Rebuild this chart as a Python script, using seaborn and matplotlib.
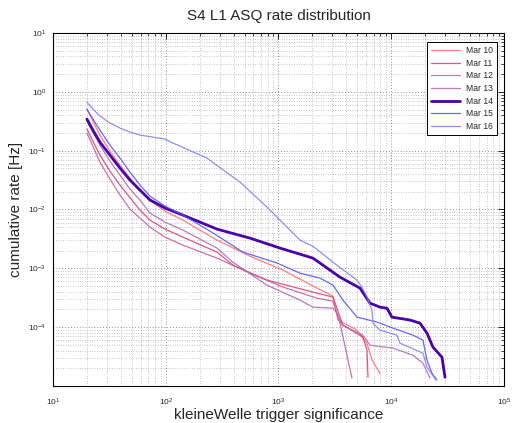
import numpy as np
import pandas as pd
import matplotlib
matplotlib.use("Agg")
import matplotlib.pyplot as plt
import seaborn as sns

# significance / cumulative rate for each day
mar10_x = [20, 22.6, 26.1, 32.0, 39.3, 48.2, 59.1, 72.5, 98.5, 142, 285, 559, 1096, 2195, 3044,
           3370, 4970, 6095, 6751, 7946]
mar10_y = [0.510, 0.319, 0.184, 0.0985, 0.0569, 0.0342, 0.0214, 0.0145, 0.00939, 0.0066, 0.00302,
           0.00161, 9.32e-4, 4.61e-4, 3.37e-4, 1.32e-4, 8.89e-5, 5.34e-5, 2.75e-5, 1.65e-5]

mar11_x = [20, 22.6, 26.1, 32.0, 39.3, 59.1, 72.5, 98.5, 142, 285, 395, 791, 2195, 3044, 3733,
           5616, 6095, 6221]
mar11_y = [0.233, 0.1457, 0.0842, 0.045, 0.026, 0.00977, 0.0066, 0.00464, 0.00339, 0.00189,
           0.00113, 6.30e-4, 3.79e-4, 3.24e-4, 1.08e-4, 6.76e-5, 4.06e-5, 1.41e-5]

mar12_x = [20, 22.6, 26.1, 32.0, 39.3, 48.2, 59.1, 72.5, 98.5, 142, 285, 559, 1096, 2195, 3044,
           3512, 4487]
mar12_y = [0.200, 0.1197, 0.064, 0.0329, 0.0176, 0.01016, 0.00714, 0.00502, 0.00339, 0.00248,
           0.00149, 8.29e-4, 4.79e-4, 3.11e-4, 2.77e-4, 1.17e-4, 1.36e-5]

mar13_x = [20, 22.6, 26.1, 32.0, 39.3, 48.2, 59.1, 72.5, 98.5, 142, 285, 395, 791, 1551, 2023,
           3044, 3302, 3658, 5616, 6479, 10360, 15590, 19120, 22060]
mar13_y = [0.319, 0.207, 0.1245, 0.0665, 0.0385, 0.0222, 0.0145, 0.00869, 0.0061, 0.00447,
           0.00221, 0.00127, 5.18e-4, 2.88e-4, 2.19e-4, 2.10e-4, 1.73e-4, 1.08e-4, 7.31e-5,
           4.94e-5, 4.40e-5, 3.34e-5, 2.44e-5, 1.36e-5]

mar14_x = [20, 22.6, 26.1, 32.0, 39.3, 48.2, 59.1, 72.5, 98.5, 142, 285, 559, 1031, 2023, 3512,
           5283, 6479, 7946, 9170, 10150, 14670, 17990, 20760, 23460, 28190, 29980]
mar14_y = [0.345, 0.224, 0.140, 0.0842, 0.0506, 0.0316, 0.0214, 0.0145, 0.0106, 0.00803, 0.00464,
           0.00326, 0.00221, 0.00149, 7.08e-4, 4.61e-4, 2.56e-4, 2.19e-4, 2.10e-4, 1.48e-4,
           1.32e-4, 1.17e-4, 7.91e-5, 4.57e-5, 3.09e-5, 1.41e-5]

mar15_x = [20, 22.6, 26.1, 32.0, 39.3, 48.2, 59.1, 72.5, 98.5, 142, 247, 484, 970, 1551, 2334,
           3044, 3733, 4970, 7474, 10360, 15590, 19120, 20760, 22980, 25460]
mar15_y = [0.510, 0.345, 0.224, 0.1245, 0.0748, 0.0433, 0.026, 0.0169, 0.01143, 0.00803, 0.00429,
           0.00189, 0.00123, 8.29e-4, 6.81e-4, 5.18e-4, 2.88e-4, 1.48e-4, 1.22e-4, 9.62e-5,
           7.31e-5, 6.01e-5, 2.75e-5, 1.65e-5, 1.26e-5]

mar16_x = [20, 22.6, 26.1, 32.0, 39.3, 48.2, 59.1, 98.5, 116, 232, 456, 791, 1096, 1551, 2023,
           3044, 4970, 5503, 6095, 6751, 6888, 7946, 11240, 11950, 19120, 20760, 24950]
mar16_y = [0.671, 0.510, 0.388, 0.295, 0.242, 0.207, 0.184, 0.1575, 0.1346, 0.0748, 0.0292,
           0.011, 0.00587, 0.00302, 0.00238, 0.00127, 6.30e-4, 4.79e-4, 3.24e-4, 1.95e-4,
           1.17e-4, 8.89e-5, 7.31e-5, 5.34e-5, 3.61e-5, 2.09e-5, 1.26e-5]

days = ["Mar 10", "Mar 11", "Mar 12", "Mar 13", "Mar 14", "Mar 15", "Mar 16"]
xs = [mar10_x, mar11_x, mar12_x, mar13_x, mar14_x, mar15_x, mar16_x]
ys = [mar10_y, mar11_y, mar12_y, mar13_y, mar14_y, mar15_y, mar16_y]

colores = {"Mar 10": "#ff6a6a", "Mar 11": "#d83a68", "Mar 12": "#c45a98", "Mar 13": "#a865b8",
           "Mar 14": "#4a00a8", "Mar 15": "#5050f0", "Mar 16": "#7c7cf2"}
grosor = {d: 0.9 for d in days}
grosor["Mar 14"] = 2.0

filas = []
for d, xx, yy in zip(days, xs, ys):
    for i, (a, b) in enumerate(zip(xx, yy)):
        filas.append({"day": d, "orden": i, "sig": a, "rate": b})
df = pd.DataFrame(filas)

sns.set_style("white")
plt.rcParams["font.family"] = ["Liberation Sans", "DejaVu Sans"]
plt.rcParams["mathtext.default"] = "regular"

fig = plt.figure(figsize=(5.14, 4.23), dpi=100)
ax = fig.add_axes([0.103, 0.0875, 0.8775, 0.8345])

sns.lineplot(data=df, x="sig", y="rate", hue="day", size="day", palette=colores, sizes=grosor,
             hue_order=days, size_order=days, sort=False, estimator=None, units="day",
             ax=ax, legend=False)
for ln in ax.lines:
    if ln.get_linewidth() < 1.5:
        ln.set_alpha(0.85)

ax.set_xscale("log")
ax.set_yscale("log")
ax.set_xlim(10, 1e5)
ax.set_ylim(1e-5, 10)

punteado = (0, (1, 2.5))
ax.grid(True, which="major", linestyle=punteado, color="#707070", linewidth=0.6)
ax.grid(True, which="minor", linestyle=punteado, color="#909090", linewidth=0.5)
ax.set_xticks([10, 100, 1000, 1e4, 1e5])
ax.set_yticks([1e-4, 1e-3, 1e-2, 1e-1, 1, 10])
ax.yaxis.set_minor_locator(matplotlib.ticker.LogLocator(base=10, subs=np.arange(2, 10), numticks=20))
ax.xaxis.set_minor_locator(matplotlib.ticker.LogLocator(base=10, subs=np.arange(2, 10), numticks=20))
ax.yaxis.set_minor_formatter(matplotlib.ticker.NullFormatter())
ax.xaxis.set_minor_formatter(matplotlib.ticker.NullFormatter())
ax.tick_params(which="both", direction="in", top=True, right=True, labelsize=6, color="black")
ax.tick_params(which="major", length=4, width=0.6)
ax.tick_params(which="minor", length=2, width=0.5)
ax.tick_params(axis="x", which="major", pad=8)
ax.tick_params(axis="y", which="major", pad=5)
for s in ax.spines.values():
    s.set_color("black")
    s.set_linewidth(0.8)

ax.set_title("S4 L1 ASQ rate distribution", fontsize=11, pad=9)
ax.set_xlabel("kleineWelle trigger significance", fontsize=11, labelpad=0)
ax.set_ylabel("cumulative rate [Hz]", fontsize=11, labelpad=4)

manijas = [plt.Line2D([], [], color=colores[d], linewidth=grosor[d],
                      alpha=1 if d == "Mar 14" else 0.85) for d in days]
leg = ax.legend(manijas, days, loc="upper right", fontsize=6.2, frameon=True, fancybox=False,
                edgecolor="black", framealpha=1, handlelength=3.3, handletextpad=0.7,
                borderpad=0.45, labelspacing=0.42, bbox_to_anchor=(0.993, 0.986))
leg.get_frame().set_linewidth(0.7)

fig.savefig("out.png", dpi=100)
